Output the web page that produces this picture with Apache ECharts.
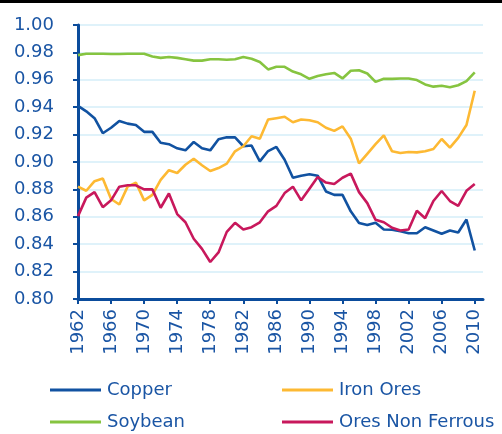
<!DOCTYPE html>
<html>
<head>
<meta charset="utf-8">
<script src="https://cdn.jsdelivr.net/npm/echarts@6/dist/echarts.min.js"></script>
<style>
	html, body { margin: 0; padding: 0; background: #fff; }
	#chart { width: 502px; height: 434px; }
</style>
</head>
<body>
<div id="chart"></div>
<script>
const years = [
	'1962', '1963', '1964', '1965', '1966', '1967', '1968', '1969', '1970', '1971',
	'1972', '1973', '1974', '1975', '1976', '1977', '1978', '1979', '1980', '1981',
	'1982', '1983', '1984', '1985', '1986', '1987', '1988', '1989', '1990', '1991',
	'1992', '1993', '1994', '1995', '1996', '1997', '1998', '1999', '2000', '2001',
	'2002', '2003', '2004', '2005', '2006', '2007', '2008', '2009', '2010', '2011',
];

const copper = [
	0.941, 0.937, 0.932, 0.921, 0.925, 0.930, 0.928, 0.927, 0.922, 0.922,
	0.914, 0.913, 0.910, 0.9085, 0.9146, 0.910, 0.9085, 0.9166, 0.918, 0.918,
	0.9115, 0.912, 0.9005, 0.908, 0.911, 0.9017, 0.8885, 0.890, 0.891, 0.890,
	0.8785, 0.876, 0.876, 0.864, 0.8554, 0.854, 0.8556, 0.8507, 0.8505, 0.8495,
	0.848, 0.848, 0.8524, 0.850, 0.8476, 0.850, 0.8485, 0.858, 0.8354,
];

const ironOres = [
	0.882, 0.879, 0.886, 0.888, 0.873, 0.869, 0.882, 0.885, 0.872, 0.876,
	0.887, 0.894, 0.892, 0.898, 0.9024, 0.8976, 0.8934, 0.8956, 0.8988, 0.9078,
	0.9115, 0.9188, 0.917, 0.931, 0.932, 0.933, 0.929, 0.931, 0.9305, 0.929,
	0.925, 0.9227, 0.926, 0.917, 0.899, 0.906, 0.913, 0.9195, 0.9078, 0.9066,
	0.9073, 0.907, 0.9078, 0.9095, 0.9168, 0.9105, 0.9176, 0.927, 0.952,
];

const soybean = [
	0.978, 0.979, 0.979, 0.979, 0.9788, 0.9788, 0.979, 0.979, 0.979, 0.977,
	0.976, 0.9766, 0.976, 0.975, 0.974, 0.974, 0.975, 0.975, 0.9746, 0.975,
	0.9766, 0.9754, 0.973, 0.9676, 0.9695, 0.9695, 0.966, 0.964, 0.9607, 0.9627,
	0.964, 0.965, 0.961, 0.9666, 0.967, 0.9646, 0.9585, 0.9607, 0.9607, 0.961,
	0.961, 0.9598, 0.9566, 0.955, 0.9556, 0.9546, 0.956, 0.959, 0.9654,
];

const oresNonFerrous = [
	0.8605, 0.874, 0.878, 0.867, 0.872, 0.882, 0.883, 0.883, 0.880, 0.880,
	0.8666, 0.877, 0.862, 0.856, 0.844, 0.8366, 0.827, 0.834, 0.849, 0.8556,
	0.8507, 0.8524, 0.856, 0.864, 0.868, 0.8773, 0.882, 0.872, 0.8805, 0.889,
	0.885, 0.884, 0.8885, 0.8915, 0.878, 0.870, 0.8578, 0.856, 0.852, 0.850,
	0.8507, 0.8644, 0.859, 0.8715, 0.8788, 0.8715, 0.868, 0.879, 0.884,
];

const axisBlue = '#0b4c9c',
	textBlue = '#1a55a4',
	font = 'DejaVu Sans';

const line = (name, data, color) => ({
	name,
	type: 'line',
	data,
	symbol: 'none',
	lineStyle: { width: 2.6, color },
	itemStyle: { color },
	animation: false,
});

// one legend per entry, so the 2x2 layout sits where the reference has it
const legend = (left, top, name) => ({
	left,
	top,
	padding: 0,
	data: [name],
	icon: 'rect',
	itemWidth: 51,
	itemHeight: 3,
	itemGap: 0,
	textStyle: { color: textBlue, fontSize: 18, fontFamily: font, padding: [0, 0, 0, 1] },
});

const chart = echarts.init(document.getElementById('chart'), null, { renderer: 'canvas' });

chart.setOption({
	animation: false,
	graphic: [{
		type: 'rect',
		shape: { x: 0, y: 0, width: 502, height: 3 },
		style: { fill: '#000' },
	}],
	grid: { left: 78, right: 19, top: 25, bottom: 135, containLabel: false },
	legend: [
		legend(50, 381, 'Copper'),
		legend(50, 413, 'Soybean'),
		legend(282, 381, 'Iron Ores'),
		legend(282, 413, 'Ores Non Ferrous'),
	],
	xAxis: {
		type: 'category',
		data: years,
		boundaryGap: false,
		axisLine: { lineStyle: { color: axisBlue, width: 3 } },
		axisTick: { interval: 3, length: 5, lineStyle: { color: axisBlue, width: 2 } },
		axisLabel: {
			interval: 3,
			rotate: 90,
			margin: 10,
			color: textBlue,
			fontSize: 18,
			fontFamily: font,
		},
		splitLine: { show: false },
	},
	yAxis: {
		type: 'value',
		min: 0.8,
		max: 1.0,
		interval: 0.02,
		axisLine: { show: true, lineStyle: { color: axisBlue, width: 3 } },
		axisTick: { show: true, length: 5, lineStyle: { color: axisBlue, width: 2 } },
		axisLabel: {
			margin: 24,
			color: textBlue,
			fontSize: 18,
			fontFamily: font,
			formatter: (v) => v.toFixed(2),
		},
		splitLine: { lineStyle: { color: '#d4eef9', width: 1.5 } },
	},
	series: [
		line('Copper', copper, '#1152a1'),
		line('Iron Ores', ironOres, '#fdb933'),
		line('Soybean', soybean, '#86c440'),
		line('Ores Non Ferrous', oresNonFerrous, '#c8185c'),
	],
});
</script>
</body>
</html>
